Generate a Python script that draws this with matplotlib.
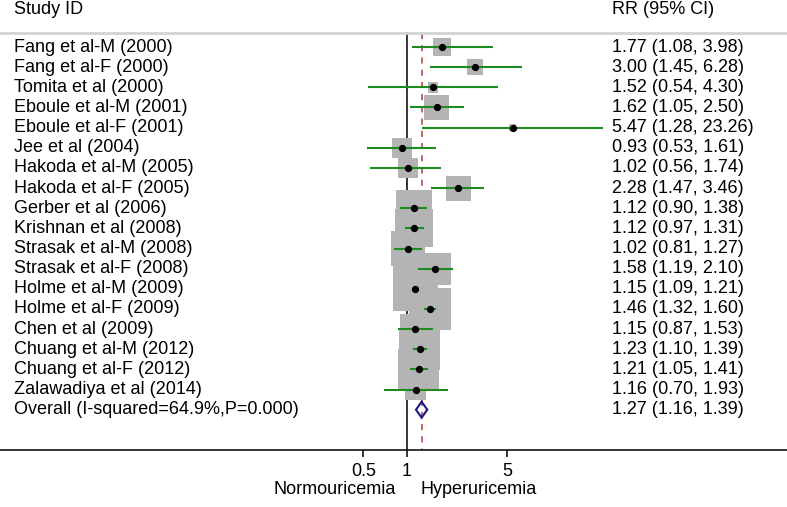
import numpy as np
import matplotlib.pyplot as plt
from matplotlib.patches import Polygon
from matplotlib.transforms import blended_transform_factory

plt.rcParams["font.family"] = ["Liberation Sans", "DejaVu Sans"]
plt.rcParams["font.size"] = 13

# 数据
studies = ['Fang et al-M (2000)', 'Fang et al-F (2000)', 'Tomita et al (2000)',
           'Eboule et al-M (2001)', 'Eboule et al-F (2001)', 'Jee et al (2004)',
           'Hakoda et al-M (2005)', 'Hakoda et al-F (2005)', 'Gerber et al (2006)',
           'Krishnan et al (2008)', 'Strasak et al-M (2008)', 'Strasak et al-F (2008)',
           'Holme et al-M (2009)', 'Holme et al-F (2009)', 'Chen et al (2009)',
           'Chuang et al-M (2012)', 'Chuang et al-F (2012)', 'Zalawadiya et al (2014)']
rr = [1.77, 3.00, 1.52, 1.62, 5.47, 0.93, 1.02, 2.28, 1.12, 1.12, 1.02, 1.58,
      1.15, 1.46, 1.15, 1.23, 1.21, 1.16]
lo = [1.08, 1.45, 0.54, 1.05, 1.28, 0.53, 0.56, 1.47, 0.90, 0.97, 0.81, 1.19,
      1.09, 1.32, 0.87, 1.10, 1.05, 0.70]
hi = [3.98, 6.28, 4.30, 2.50, 23.26, 1.61, 1.74, 3.46, 1.38, 1.31, 1.27, 2.10,
      1.21, 1.60, 1.53, 1.39, 1.41, 1.93]
weights = [2.0, 1.6, 0.7, 3.8, 0.3, 2.5, 2.5, 3.8, 8.0, 8.9, 7.1, 6.3,
           12.4, 10.8, 5.9, 10.3, 10.3, 2.7]
overall = (1.27, 1.16, 1.39)
overall_label = 'Overall (I-squared=64.9%,P=0.000)'
xticks = [0.5, 1, 5]

W, H = 787, 507
fig = plt.figure(figsize=(W / 100, H / 100), dpi=100)
ax = fig.add_axes([0, 57 / H, 1, 450 / H])
ax.set_xscale('log')
ppu = 62.5  # 每个ln单位的像素
x1 = 406.7
ax.set_xlim(np.exp(-x1 / ppu), np.exp((W - x1) / ppu))
row_px = 20.15
ax.set_ylim(403 / row_px, -47 / row_px)

n = len(studies)
ys = np.arange(n)
top = -0.70
bottom = 403 / row_px

# 参考线
ax.plot([1, 1], [top, bottom], color='black', lw=1.1, zorder=1)
ax.plot([overall[0]] * 2, [top, bottom], color='#b03a3a', lw=1.1,
        ls=(0, (4, 4)), zorder=1)
ax.axhline(top, color='#d3d3d3', lw=2, zorder=1)

# 方块
side_px = 12.8 * np.sqrt(np.array(weights))
ax.scatter(rr, ys, s=(side_px * 0.72) ** 2, marker='s', color='#b4b4b4',
           linewidths=0, zorder=2)
ax.hlines(ys, lo, hi, color='#1f8a1f', lw=1.5, zorder=3)
ax.scatter(rr, ys, s=18, color='black', zorder=4)

# 菱形
yo = n
h = 8 / row_px
diamond = Polygon([(overall[1], yo), (overall[0], yo - h), (overall[2], yo),
                   (overall[0], yo + h)], closed=True, fill=False,
                  edgecolor='#1a1a80', lw=1.5, zorder=5)
ax.add_patch(diamond)

# 文本
tr = blended_transform_factory(ax.transAxes, ax.transData)
ax.text(14 / W, -1.84, 'Study ID', transform=tr, va='center', ha='left')
ax.text(612 / W, -1.84, 'RR (95% CI)', transform=tr, va='center', ha='left')
for i in range(n):
    ax.text(14 / W, ys[i], studies[i], transform=tr, va='center', ha='left')
    ax.text(612 / W, ys[i], f'{rr[i]:.2f} ({lo[i]:.2f}, {hi[i]:.2f})',
            transform=tr, va='center', ha='left')
ax.text(14 / W, yo, overall_label, transform=tr, va='center', ha='left')
ax.text(612 / W, yo, f'{overall[0]:.2f} ({overall[1]:.2f}, {overall[2]:.2f})',
        transform=tr, va='center', ha='left')

# 坐标轴
for s in ['top', 'left', 'right']:
    ax.spines[s].set_visible(False)
ax.spines['bottom'].set_linewidth(1.1)
ax.set_yticks([])
ax.set_xticks(xticks)
ax.set_xticklabels(['0.5', '1', '5'])
ax.xaxis.set_minor_locator(plt.NullLocator())
ax.tick_params(axis='x', direction='out', length=5, width=1.1, pad=4)

fig.text(396 / W, 1 - 490 / H, 'Normouricemia', ha='right', va='center')
fig.text(421 / W, 1 - 490 / H, 'Hyperuricemia', ha='left', va='center')

fig.savefig('out.png', dpi=100)
